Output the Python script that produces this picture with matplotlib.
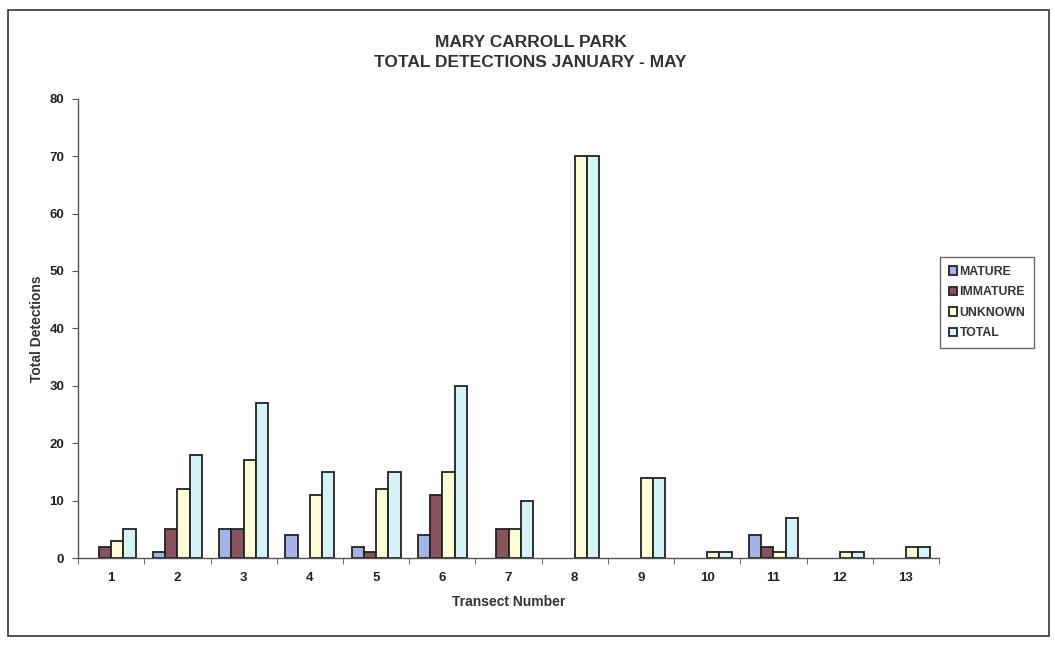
import numpy as np
import matplotlib
matplotlib.use("Agg")
import matplotlib.pyplot as plt
from matplotlib.patches import Rectangle, Patch

plt.rcParams["font.family"] = ["Liberation Sans", "DejaVu Sans"]

# Data
transects = [1, 2, 3, 4, 5, 6, 7, 8, 9, 10, 11, 12, 13]
mature = [0, 1, 5, 4, 2, 4, 0, 0, 0, 0, 4, 0, 0]
immature = [2, 5, 5, 0, 1, 11, 5, 0, 0, 0, 2, 0, 0]
unknown = [3, 12, 17, 11, 12, 15, 5, 70, 14, 1, 1, 1, 2]
total = [5, 18, 27, 15, 15, 30, 10, 70, 14, 1, 7, 1, 2]

series = [
    ("MATURE", mature, "#a6b3e8"),
    ("IMMATURE", immature, "#87535e"),
    ("UNKNOWN", unknown, "#fcfcd6"),
    ("TOTAL", total, "#d6f3f8"),
]

fig = plt.figure(figsize=(10.55, 6.49), dpi=100)
ax = fig.add_axes([0.074, 0.140, 0.816, 0.708])

x = np.arange(len(transects)) + 1
w = 0.185
handles = []
for i, (name, vals, col) in enumerate(series):
    bars = ax.bar(x + (i - 1.5) * w, vals, w, color=col, edgecolor="#222222",
                  linewidth=1.3)
    # zero-height bars are not drawn in the original
    for b, v in zip(bars, vals):
        if v == 0:
            b.set_visible(False)
    handles.append(Patch(facecolor=col, edgecolor="#222222", linewidth=1.3,
                         label=name))

ax.set_xlim(0.5, len(transects) + 0.5)
ax.set_ylim(0, 80)
ax.set_yticks(range(0, 81, 10))
ax.set_xticks(x)
ax.set_xticklabels([str(t) for t in transects])
ax.set_xticks(np.arange(0.5, len(transects) + 1, 1), minor=True)
ax.tick_params(axis="x", which="major", length=0, pad=10)
ax.tick_params(axis="x", which="minor", length=4, color="#555555")
ax.tick_params(axis="y", length=4, color="#555555", pad=6)
for lab in ax.get_xticklabels() + ax.get_yticklabels():
    lab.set_fontweight("bold")
    lab.set_fontsize(9.5)
    lab.set_color("#222222")

for s in ["top", "right"]:
    ax.spines[s].set_visible(False)
for s in ["left", "bottom"]:
    ax.spines[s].set_color("#555555")
    ax.spines[s].set_linewidth(1.0)

ax.set_xlabel("Transect Number", fontsize=10, fontweight="bold", labelpad=8,
              color="#333333")
ax.set_ylabel("Total Detections", fontsize=10, fontweight="bold", labelpad=4,
              color="#333333")

fig.text(0.503, 0.935, "MARY CARROLL PARK", ha="center", va="center",
         fontsize=12.5, fontweight="bold", color="#333333")
fig.text(0.503, 0.903, "TOTAL DETECTIONS JANUARY - MAY", ha="center",
         va="center", fontsize=12.5, fontweight="bold", color="#333333")

leg = fig.legend(handles=handles, loc="upper left",
                 bbox_to_anchor=(0.891, 0.604), borderaxespad=0,
                 prop={"size": 8.8, "weight": "bold"}, frameon=True,
                 fancybox=False, handlelength=0.7, handleheight=0.7,
                 handletextpad=0.2, labelspacing=0.7, borderpad=0.7)
leg.get_frame().set_edgecolor("#444444")
leg.get_frame().set_linewidth(1.0)
for t in leg.get_texts():
    t.set_color("#333333")

# outer chart frame
fig.patches.append(Rectangle((0.008, 0.02), 0.986, 0.965, transform=fig.transFigure,
                             fill=False, edgecolor="#333333", linewidth=1.2))

fig.savefig("out.png", dpi=100)
